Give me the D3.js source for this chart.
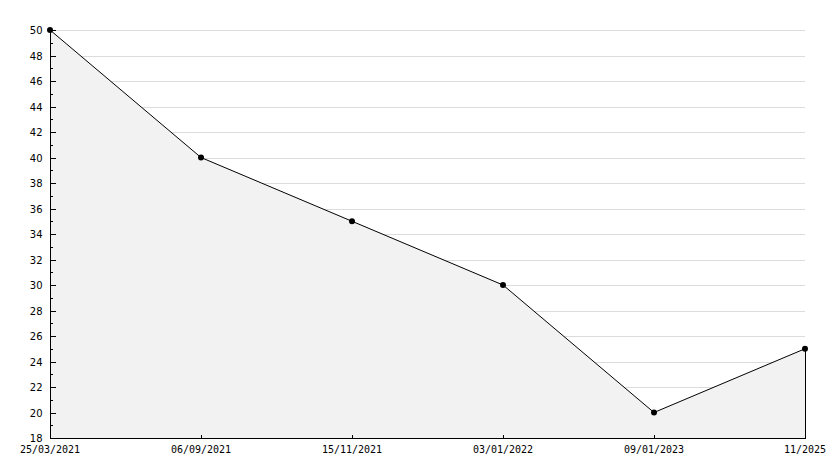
<!DOCTYPE html>
<html><head><meta charset="utf-8">
<script src="https://cdn.jsdelivr.net/npm/d3@7"></script>
<style>body{margin:0;background:#fff}svg{display:block}text{font-family:"DejaVu Sans Mono",monospace;font-size:10px;fill:#000}</style>
</head><body><svg id="c" width="834" height="468"></svg>
<script>
const categories = ["25/03/2021","06/09/2021","15/11/2021","03/01/2022","09/01/2023","11/2025"];
const values = [50, 40, 35, 30, 20, 25];
const yMajorTicks = [18,20,22,24,26,28,30,32,34,36,38,40,42,44,46,48,50];
const yMinorTicks = [19,21,23,25,27,29,31,33,35,37,39,41,43,45,47,49];

const svg = d3.select("#c");
const L = 50, R = 805, T = 30, B = 438;
const x = d3.scalePoint().domain(categories).range([L, R]);
const y = d3.scaleLinear().domain([18, 50]).range([B, T]);
const data = categories.map((c,i)=>({c, v: values[i]}));

// grid
svg.append("g").selectAll("line").data(yMajorTicks.filter(d=>d>18)).join("line")
  .attr("x1", L).attr("x2", R).attr("y1", d=>Math.round(y(d))+0.5).attr("y2", d=>Math.round(y(d))+0.5)
  .attr("stroke", "#dcdcdc").attr("shape-rendering","crispEdges");

// area
svg.append("path").datum(data)
  .attr("d", d3.area().x(d=>x(d.c)).y0(B).y1(d=>y(d.v)))
  .attr("fill", "#f2f2f2");
// line
svg.append("path").datum(data)
  .attr("d", d3.line().x(d=>x(d.c)).y(d=>y(d.v)))
  .attr("fill", "none").attr("stroke", "#000").attr("stroke-width", 1);
// right edge of area
svg.append("line").attr("x1", R+0.5).attr("x2", R+0.5).attr("y1", y(values[values.length-1])).attr("y2", B)
  .attr("stroke","#000").attr("shape-rendering","crispEdges");

// y axis
const ya = svg.append("g").attr("transform", `translate(${L+0.5},0)`)
  .call(d3.axisRight(y).tickValues(yMajorTicks).tickSize(5).tickFormat(d3.format("d")));
ya.select(".domain").attr("d", `M0,${T}V${B}`).attr("stroke","#000");
ya.selectAll(".tick line").attr("stroke","#000");
ya.selectAll(".tick text").attr("x", -8).attr("text-anchor","end").attr("dy","0.35em").style("font-family","DejaVu Sans").style("font-size","10px");
ya.attr("shape-rendering","crispEdges");
svg.append("g").selectAll("line").data(yMinorTicks).join("line")
  .attr("x1", L).attr("x2", L+3).attr("y1", d=>Math.round(y(d))+0.5).attr("y2", d=>Math.round(y(d))+0.5)
  .attr("stroke","#000").attr("shape-rendering","crispEdges");

// x axis
const xa = svg.append("g").attr("transform", `translate(0,${B+0.5})`)
  .call(d3.axisTop(x).tickSize(4).tickFormat(""));
xa.select(".domain").attr("d", `M${L},0H${R+1}`).attr("stroke","#000");
xa.selectAll(".tick line").attr("stroke","#000");
xa.attr("shape-rendering","crispEdges");
svg.append("g").selectAll("text").data(categories).join("text")
  .attr("x", d=>x(d)).attr("y", B+15).attr("text-anchor","middle").text(d=>d);

// markers
svg.append("g").selectAll("circle").data(data).join("circle")
  .attr("cx", d=>x(d.c)).attr("cy", d=>y(d.v)).attr("r", 3).attr("fill","#000");
</script></body></html>
